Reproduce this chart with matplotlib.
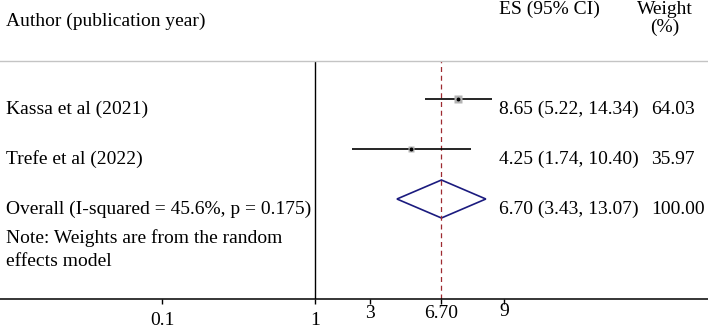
import matplotlib
matplotlib.use('Agg')
import matplotlib.pyplot as plt
import matplotlib.transforms as mtransforms
from matplotlib.ticker import NullLocator
import numpy as np

plt.rcParams['font.family'] = ['Liberation Serif', 'DejaVu Serif']

# study data
studies = ['Kassa et al (2021)', 'Trefe et al (2022)']
es = [8.65, 4.25]
lci = [5.22, 1.74]
uci = [14.34, 10.40]
weights = [64.03, 35.97]

# pooled estimate
overall_label = 'Overall (I-squared = 45.6%, p = 0.175)'
overall_es = 6.70
overall_lci = 3.43
overall_uci = 13.07
overall_weight = 100.00

note_lines = ['Note: Weights are from the random', 'effects model']

# axis ticks as they appear on the chart
tick_pos = [0.1, 1, 2.3, 6.70, 17.2]
tick_labels = ['0.1', '1', '3', '6.70', '9']

fs = 14
px = 72 / 100  # points per pixel

fig = plt.figure(figsize=(7.08, 3.28), dpi=100)
ax = fig.add_axes([0, 29 / 328, 1, 238 / 328])
ax.set_xscale('log')
ax.set_xlim(0.00873, 370)
ax.set_ylim(5.0, 0.24)

rows = np.arange(1, len(studies) + 1)
overall_row = len(studies) + 1

# reference lines
ax.axvline(1, color='black', lw=1.0)
ax.axvline(overall_es, color='#9e2a30', lw=0.9, ls=(0, (4, 3)))

# confidence intervals and weight boxes
ax.hlines(rows, lci, uci, color='black', lw=1.2)
for e, w, r in zip(es, weights, rows):
    side = 0.95 * np.sqrt(w)
    ax.plot(e, r, marker='s', ms=side * px, color='#b4b4b4', mec='none')
    ax.plot(e, r, marker='o', ms=1.8, color='black')

# overall diamond
h = 0.38
ax.fill([overall_lci, overall_es, overall_uci, overall_es],
        [overall_row, overall_row - h, overall_row, overall_row + h],
        fc='none', ec='#1b1b7f', lw=1.2)

# spines
for s in ['left', 'right']:
    ax.spines[s].set_visible(False)
ax.spines['top'].set_color('#c4c4c4')
ax.spines['top'].set_linewidth(1.0)
ax.spines['bottom'].set_linewidth(1.1)
ax.set_yticks([])

# text columns
trans = mtransforms.blended_transform_factory(ax.transAxes, ax.transData)
x_left = 6 / 708
x_es = 499 / 708
x_w = 651 / 708
x_wh = 665 / 708

ax.text(x_left, -0.46, 'Author (publication year)', transform=trans, fontsize=fs, va='baseline')
ax.text(x_es, -0.7, 'ES (95% CI)', transform=trans, fontsize=fs, va='baseline')
ax.text(x_wh, -0.7, 'Weight', transform=trans, fontsize=fs, va='baseline', ha='center')
ax.text(x_wh, -0.34, '(%)', transform=trans, fontsize=fs, va='baseline', ha='center')

for name, e, lo, hi, w, r in zip(studies, es, lci, uci, weights, rows):
    ax.text(x_left, r + 0.3, name, transform=trans, fontsize=fs, va='baseline')
    ax.text(x_es, r + 0.3, f'{e:.2f} ({lo:.2f}, {hi:.2f})', transform=trans, fontsize=fs, va='baseline')
    ax.text(x_w, r + 0.3, f'{w:.2f}', transform=trans, fontsize=fs, va='baseline')

ax.text(x_left, overall_row + 0.3, overall_label, transform=trans, fontsize=fs, va='baseline')
ax.text(x_es, overall_row + 0.3, f'{overall_es:.2f} ({overall_lci:.2f}, {overall_uci:.2f})',
        transform=trans, fontsize=fs, va='baseline')
ax.text(x_w, overall_row + 0.3, f'{overall_weight:.2f}', transform=trans, fontsize=fs, va='baseline')

ax.text(x_left, overall_row + 0.88, note_lines[0], transform=trans, fontsize=fs, va='baseline')
ax.text(x_left, overall_row + 1.34, note_lines[1], transform=trans, fontsize=fs, va='baseline')

# x ticks
ax.set_xticks(tick_pos)
ax.set_xticklabels(tick_labels)
ax.xaxis.set_minor_locator(NullLocator())
ax.tick_params(axis='x', labelsize=fs, length=5 * px, width=1.0)
tick_len = [5, 7, 3, 8, 7]
tick_pad = [8, 8, 1, 1, -1]
for t, l, p in zip(ax.xaxis.get_major_ticks(), tick_len, tick_pad):
    t.tick1line.set_markersize(l * px)
    t.set_pad(p * px)

fig.savefig('out.png', dpi=100)
